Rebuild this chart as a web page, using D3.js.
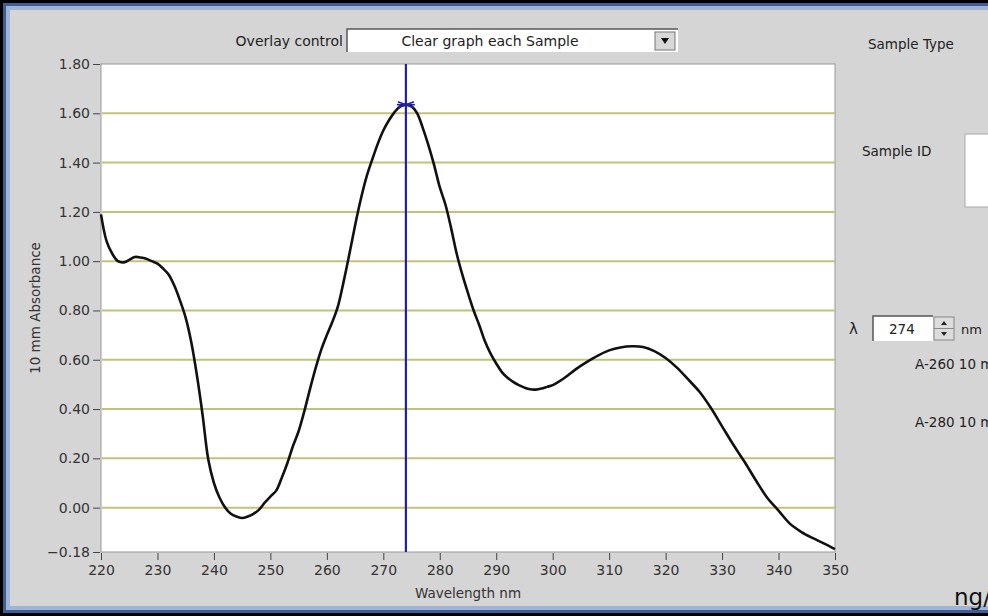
<!DOCTYPE html>
<html>
<head>
<meta charset="utf-8">
<script src="https://cdn.jsdelivr.net/npm/d3@7"></script>
<style>
html,body{margin:0;padding:0;background:#000;}
svg{display:block;}
text{font-family:"DejaVu Sans",Tahoma,sans-serif;}
</style>
</head>
<body>
<svg id="chart" width="988" height="616"></svg>
<script>
// ---- data ----
const wavelengths = [220,221,222,223,224,225,226,227,228,229,230,231,232,233,234,235,236,237,238,239,
  240,241,242,243,244,245,246,247,248,249,250,251,252,253,254,255,256,257,258,259,
  260,261,262,263,264,265,266,267,268,269,270,271,272,273,274,275,276,277,278,279,
  280,281,282,283,284,285,286,287,288,289,290,291,292,293,294,295,296,297,298,299,
  300,302,304,306,308,310,312,314,316,318,320,322,324,326,328,330,332,334,336,338,
  340,342,344,346,348,350];
const absorbance = [1.19,1.08,1.03,1.00,0.995,1.005,1.017,1.015,1.01,1.00,0.99,0.97,0.945,0.90,0.84,0.77,0.67,0.535,0.375,0.195,
  0.10,0.04,0.00,-0.025,-0.036,-0.042,-0.036,-0.025,-0.008,0.02,0.045,0.068,0.12,0.18,0.25,0.31,0.39,0.48,0.565,0.64,
  0.70,0.755,0.82,0.92,1.03,1.145,1.25,1.34,1.41,1.475,1.53,1.572,1.605,1.628,1.635,1.628,1.60,1.54,1.47,1.39,
  1.30,1.23,1.135,1.03,0.945,0.87,0.80,0.74,0.675,0.625,0.585,0.55,0.527,0.51,0.497,0.487,0.48,0.479,0.483,0.49,
  0.497,0.525,0.56,0.59,0.617,0.638,0.650,0.655,0.652,0.635,0.607,0.568,0.52,0.47,0.405,0.33,0.255,0.185,0.11,0.04,
  -0.012,-0.065,-0.098,-0.123,-0.145,-0.168];
const xTicks = [220,230,240,250,260,270,280,290,300,310,320,330,340,350];
const yTicks = [1.80,1.60,1.40,1.20,1.00,0.80,0.60,0.40,0.20,0.00,-0.18];
const gridValues = [1.60,1.40,1.20,1.00,0.80,0.60,0.40,0.20,0.00];
const cursorWavelength = 274;
const cursorAbsorbance = 1.635;
const xTitle = "Wavelength nm";
const yTitle = "10 mm Absorbance";

// ---- layout ----
const W = 988, H = 616;
const plot = {left:101, right:835, top:64, bottom:552};
const svg = d3.select("#chart");

// window frame
svg.append("rect").attr("x",0).attr("y",0).attr("width",W).attr("height",H).attr("fill","#000");
svg.append("rect").attr("x",3).attr("y",3).attr("width",W-3).attr("height",H-6).attr("fill","#3d5f96");
svg.append("rect").attr("x",6).attr("y",6).attr("width",W-6).attr("height",H-12).attr("fill","#9db4d6");
svg.append("rect").attr("x",10).attr("y",10).attr("width",W-10).attr("height",H-20).attr("fill","#d5d5d5");

const x = d3.scaleLinear().domain([220,350]).range([plot.left, plot.right]);
const y = d3.scaleLinear().domain([-0.18,1.80]).range([plot.bottom, plot.top]);

// plot background
svg.append("rect").attr("x",plot.left).attr("y",plot.top)
  .attr("width",plot.right-plot.left).attr("height",plot.bottom-plot.top)
  .attr("fill","#fff").attr("stroke","#9a9a9a").attr("stroke-width",1);

// grid lines
svg.append("g").selectAll("line").data(gridValues).join("line")
  .attr("x1",plot.left+1).attr("x2",plot.right)
  .attr("y1",d=>y(d)).attr("y2",d=>y(d))
  .attr("stroke","#c2c27a").attr("stroke-width",2);

// axes
const yAxis = d3.axisLeft(y).tickValues(yTicks).tickFormat(d3.format(".2f")).tickSize(7).tickPadding(3);
const gy = svg.append("g").attr("transform",`translate(${plot.left-1},0)`).call(yAxis);
gy.select(".domain").remove();
gy.selectAll("line").attr("stroke","#444");
gy.selectAll("text").attr("font-size","14px").attr("fill","#333");

const xAxis = d3.axisBottom(x).tickValues(xTicks).tickFormat(d3.format("d")).tickSize(7).tickPadding(5);
const gx = svg.append("g").attr("transform",`translate(0,${plot.bottom+1})`).call(xAxis);
gx.select(".domain").remove();
gx.selectAll("line").attr("stroke","#444");
gx.selectAll("text").attr("font-size","14px").attr("fill","#333");

// axis titles
svg.append("text").attr("x",468).attr("y",598)
  .attr("text-anchor","middle").attr("font-size","13.5px").attr("fill","#333").text(xTitle);
svg.append("text").attr("transform",`translate(40,${(plot.top+plot.bottom)/2}) rotate(-90)`)
  .attr("text-anchor","middle").attr("font-size","13.5px").attr("fill","#333").text(yTitle);

// spectrum
const pts = wavelengths.map((w,i)=>[w,absorbance[i]]);
svg.append("path").datum(pts)
  .attr("fill","none").attr("stroke","#111").attr("stroke-width",2.6)
  .attr("stroke-linejoin","round")
  .attr("d", d3.line().x(d=>x(d[0])).y(d=>y(d[1])).curve(d3.curveCatmullRom));

// cursor
const cx = x(cursorWavelength), cy = y(cursorAbsorbance);
svg.append("line").attr("x1",cx).attr("x2",cx).attr("y1",plot.top).attr("y2",plot.bottom)
  .attr("stroke","#2121a8").attr("stroke-width",2.2);
const cur = svg.append("g").attr("stroke","#2121a8").attr("stroke-width",1.6);
cur.append("line").attr("x1",cx-9).attr("x2",cx+9).attr("y1",cy).attr("y2",cy);
cur.append("line").attr("x1",cx-8).attr("x2",cx+8).attr("y1",cy-3).attr("y2",cy+3);
cur.append("line").attr("x1",cx-8).attr("x2",cx+8).attr("y1",cy+3).attr("y2",cy-3);

// overlay control
svg.append("text").attr("x",343).attr("y",46).attr("text-anchor","end")
  .attr("font-size","14px").attr("fill","#222").text("Overlay control");
svg.append("rect").attr("x",347).attr("y",29).attr("width",331).attr("height",23).attr("fill","#fff");
svg.append("path").attr("d","M347,52 V29 H678").attr("fill","none").attr("stroke","#555").attr("stroke-width",1.5);
svg.append("text").attr("x",490).attr("y",46).attr("text-anchor","middle")
  .attr("font-size","14px").attr("fill","#222").text("Clear graph each Sample");
svg.append("rect").attr("x",655).attr("y",32).attr("width",20).attr("height",18)
  .attr("fill","#d8d8d8").attr("stroke","#777");
svg.append("path").attr("d","M661,38 L669,38 L665,44 Z").attr("fill","#111");

// right panel
svg.append("text").attr("x",868).attr("y",49).attr("font-size","13.5px").attr("fill","#222").text("Sample Type");
svg.append("text").attr("x",862).attr("y",156).attr("font-size","13.5px").attr("fill","#222").text("Sample ID");
svg.append("rect").attr("x",965).attr("y",134).attr("width",30).attr("height",73).attr("fill","#fff").attr("stroke","#aaa");

svg.append("text").attr("x",849).attr("y",334).attr("font-size","15px").attr("fill","#222").text("λ");
svg.append("rect").attr("x",873).attr("y",316).attr("width",60).attr("height",25).attr("fill","#fff");
svg.append("path").attr("d","M873,341 V316 H933").attr("fill","none").attr("stroke","#555").attr("stroke-width",1.5);
svg.append("text").attr("x",889).attr("y",334).attr("font-size","13.5px").attr("fill","#222").text("274");
svg.append("rect").attr("x",934).attr("y",317).attr("width",20).attr("height",23).attr("fill","#dcdcdc").attr("stroke","#888");
svg.append("line").attr("x1",934).attr("x2",954).attr("y1",328.5).attr("y2",328.5).attr("stroke","#888");
svg.append("path").attr("d","M941,325 L947,325 L944,321 Z M941,332 L947,332 L944,336 Z").attr("fill","#222");
svg.append("text").attr("x",961).attr("y",334).attr("font-size","13px").attr("fill","#222").text("nm");

svg.append("text").attr("x",915).attr("y",369).attr("font-size","13.5px").attr("fill","#222").text("A-260 10 mm");
svg.append("text").attr("x",915).attr("y",427).attr("font-size","13.5px").attr("fill","#222").text("A-280 10 mm");
svg.append("text").attr("x",954).attr("y",605).attr("font-size","23px").attr("fill","#111").text("ng/ul");
</script>
</body>
</html>
